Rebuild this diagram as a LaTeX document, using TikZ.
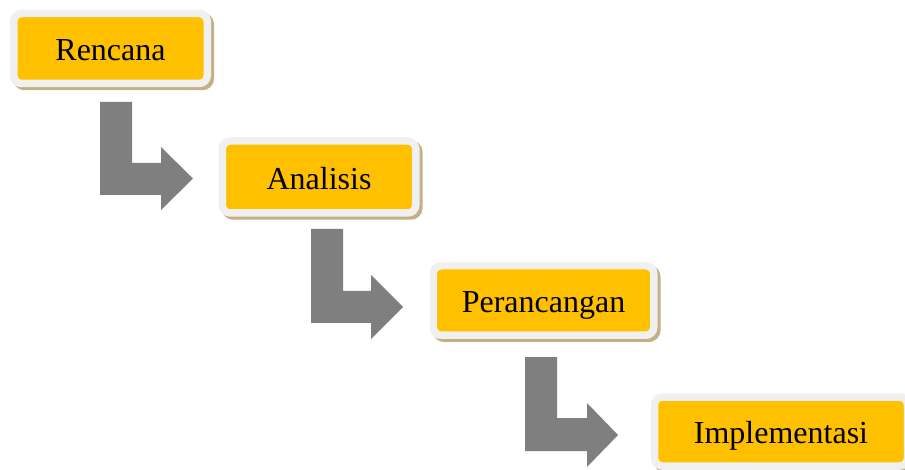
\documentclass[tikz,border=0pt]{standalone}
\usepackage{fontspec}
\setmainfont{Liberation Serif}
\definecolor{boxorange}{HTML}{FFC000}
\definecolor{framegray}{HTML}{F0F0F0}
\definecolor{shadowtan}{HTML}{C3B184}
\definecolor{arrowgray}{HTML}{7F7F7F}
\tikzset{
  stagebox/.style={draw=framegray, fill=boxorange, line width=7.5pt,
    rounded corners=8pt, inner sep=0pt, text height=30.5pt, text depth=6pt,
    font=\fontsize{32pt}{38pt}\selectfont, text=black,
    preaction={draw=shadowtan, fill=shadowtan, line width=7.5pt,
      transform canvas={shift={(3pt,-3pt)}}}},
  blockarrow/.style={fill=arrowgray, draw=none}
}
\begin{document}
\begin{tikzpicture}[x=1pt,y=-1pt]
\useasboundingbox (0,0) rectangle (905,470);
\node[stagebox, minimum width=193.5pt, minimum height=70pt] (rencana) at (110.5,48.5) {Rencana};
\node[stagebox, minimum width=193.5pt, minimum height=72pt] (analisis) at (319,177) {Analisis};
\node[stagebox, minimum width=220.5pt, minimum height=69.5pt] (perancangan) at (543.5,300.5) {Perancangan};
\node[stagebox, minimum width=253pt, minimum height=69pt] (implementasi) at (781,431.5) {Implementasi};
\fill[blockarrow] (100,102) -- (132,102) -- (132,163) -- (161,163) -- (161,147) -- (193,178.5) -- (161,210) -- (161,195) -- (100,195) -- cycle;
\fill[blockarrow] (311,229) -- (343,229) -- (343,291) -- (371,291) -- (371,275) -- (403,307) -- (371,339) -- (371,323) -- (311,323) -- cycle;
\fill[blockarrow] (525,357) -- (557,357) -- (557,418) -- (587,418) -- (587,403) -- (618,435) -- (587,467) -- (587,451) -- (525,451) -- cycle;
\end{tikzpicture}
\end{document}
